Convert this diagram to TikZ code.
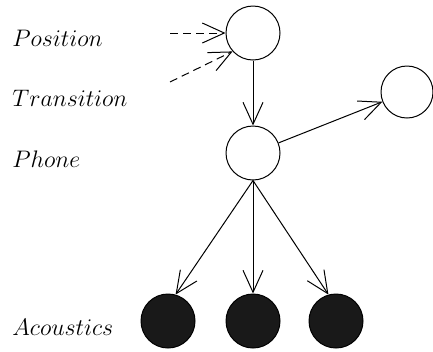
\documentclass[tikz,border=0pt]{standalone}
\usetikzlibrary{arrows.meta}
\tikzset{
  flow/.style={-{Straight Barb[length=11bp,width=10bp]},line width=0.5bp},
  flowdashed/.style={flow,dash pattern=on 4bp off 2.5bp},
  hidden/.style={circle,draw,line width=0.5bp,fill=white,minimum size=27bp,inner sep=0pt},
  observed/.style={hidden,fill=black!90},
  varlabel/.style={anchor=base west,inner sep=0pt,font=\large},
}
\begin{document}
\begin{tikzpicture}[x=0.5bp,y=0.5bp]
    \useasboundingbox (0,0) rectangle (433,351);

    \node[varlabel] (lpos) at (12,305) {$Position$};
    \node[varlabel] (ltrans) at (12,245) {$Transition$};
    \node[varlabel] (lphone) at (12,184) {$Phone$};
    \node[varlabel] (lacou) at (12,16) {$Acoustics$};

    \node[hidden] (pos) at (253,318) {};
    \node[hidden] (phone) at (253,198) {};
    \node[hidden,minimum size=26bp] (next) at (407,259) {};
    \node[observed] (ac1) at (168,30) {};
    \node[observed] (ac2) at (253,30) {};
    \node[observed] (ac3) at (336,30) {};

    \coordinate (in1) at (170,318);
    \coordinate (in2) at (170,269);

    \draw[flowdashed] (in1) -- (pos.west);
    \draw[flowdashed] (in2) -- (pos.222);
    \draw[flow] (pos) -- (phone);
    \draw[flow] (phone) -- (next);
    \draw[flow] (phone.south) -- (ac1.74);
    \draw[flow] (phone.south) -- (ac2.north);
    \draw[flow] (phone.south) -- (ac3.106);
\end{tikzpicture}
\end{document}
